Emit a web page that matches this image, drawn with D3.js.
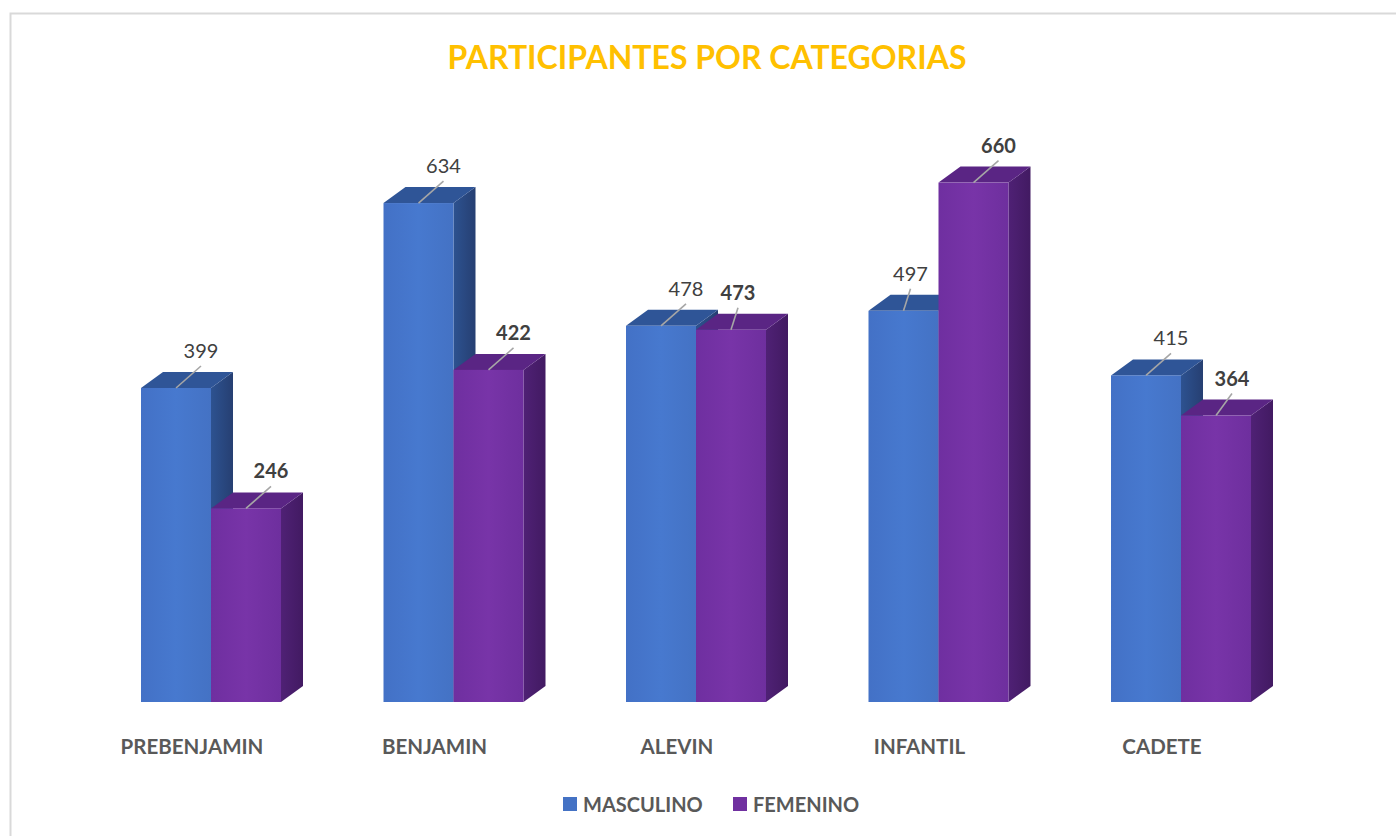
<!DOCTYPE html>
<html>
<head>
<meta charset="utf-8">
<script src="https://cdn.jsdelivr.net/npm/d3@7"></script>
<style>
  body { margin: 0; background: #fff; }
  text { font-family: Lato, "Open Sans", sans-serif; }
</style>
</head>
<body>
<script>
const categories = ["PREBENJAMIN", "BENJAMIN", "ALEVIN", "INFANTIL", "CADETE"];
const masculino = [399, 634, 478, 497, 415];
const femenino = [246, 422, 473, 660, 364];
const seriesNames = ["MASCULINO", "FEMENINO"];

const width = 1396;
const height = 836;

const svg = d3.select("body").append("svg")
  .attr("width", width)
  .attr("height", height)
  .attr("viewBox", [0, 0, width, height]);

// chart frame
svg.append("rect")
  .attr("x", 10.5).attr("y", 13.5)
  .attr("width", width).attr("height", height)
  .attr("fill", "none")
  .attr("stroke", "#d9d9d9")
  .attr("stroke-width", 2);

svg.append("text")
  .attr("x", 707).attr("y", 69)
  .attr("text-anchor", "middle")
  .attr("fill", "#ffc000")
  .attr("font-weight", 700)
  .attr("font-size", 32)
  .text("PARTICIPANTES POR CATEGORIAS");

const x = d3.scaleBand()
  .domain(categories)
  .range([141, 141 + 242.5 * categories.length]);

const y = d3.scaleLinear()
  .domain([0, 700])
  .range([702, 702 - 700 * 0.787]);

const barW = 70;
const depthX = 22, depthY = -16;

const defs = svg.append("defs");
function grad(id, stops) {
  const g = defs.append("linearGradient").attr("id", id)
    .attr("x1", 0).attr("x2", 1).attr("y1", 0).attr("y2", 0);
  stops.forEach(([o, c]) => g.append("stop").attr("offset", o).attr("stop-color", c));
}
grad("blueFront", [[0, "#4371c6"], [0.5, "#4779cf"], [1, "#4472c4"]]);
grad("purpleFront", [[0, "#6f2fa0"], [0.5, "#7834a8"], [1, "#6e2f9e"]]);
grad("blueSide", [[0, "#2d5290"], [1, "#263f72"]]);
grad("purpleSide", [[0, "#4f2175"], [1, "#421a62"]]);

const styles = [
  { front: "url(#blueFront)", side: "url(#blueSide)", top: "#2f5597", legend: "#4472c4", weight: 400 },
  { front: "url(#purpleFront)", side: "url(#purpleSide)", top: "#5a2584", legend: "#7030a0", weight: 700 }
];

// label nudges where neighbouring bars crowd the default spot
const labelShift = { "ALEVIN-1": 7, "INFANTIL-0": 7, "CADETE-1": 16 };

const rows = categories.map((c, i) => ({ cat: c, vals: [masculino[i], femenino[i]] }));

const bars = svg.append("g");
const labels = svg.append("g");

rows.forEach(d => {
  d.vals.forEach((v, s) => {
    const x0 = x(d.cat) + s * barW;
    const x1 = x0 + barW;
    const yt = y(v), yb = y(0);
    const st = styles[s];
    // side face
    bars.append("path")
      .attr("d", `M${x1},${yb}L${x1 + depthX},${yb + depthY}L${x1 + depthX},${yt + depthY}L${x1},${yt}Z`)
      .attr("fill", st.side);
    // top face
    bars.append("path")
      .attr("d", `M${x0},${yt}L${x0 + depthX},${yt + depthY}L${x1 + depthX},${yt + depthY}L${x1},${yt}Z`)
      .attr("fill", st.top);
    // front face
    bars.append("rect")
      .attr("x", x0).attr("y", yt)
      .attr("width", barW).attr("height", yb - yt)
      .attr("fill", st.front);

    const cx = x0 + barW / 2;
    const lx = cx + (labelShift[d.cat + "-" + s] ?? 25);
    labels.append("line")
      .attr("x1", cx).attr("y1", yt)
      .attr("x2", lx).attr("y2", yt - 22)
      .attr("stroke", "#a6a6a6")
      .attr("stroke-width", 1.6);
    labels.append("text")
      .attr("x", lx).attr("y", yt - 30)
      .attr("text-anchor", "middle")
      .attr("fill", "#404040")
      .attr("font-size", 20)
      .attr("font-weight", st.weight)
      .text(v);
  });
  labels.append("text")
    .attr("x", x(d.cat) + barW - 19)
    .attr("y", 754)
    .attr("text-anchor", "middle")
    .attr("fill", "#595959")
    .attr("font-size", 20.5)
    .attr("font-weight", 700)
    .text(d.cat);
});

// legend
const legendX = [563, 733];
const legend = svg.append("g").selectAll("g")
  .data(seriesNames)
  .join("g")
  .attr("transform", (d, i) => `translate(${legendX[i]},797)`);
legend.append("rect")
  .attr("width", 14).attr("height", 14)
  .attr("fill", (d, i) => styles[i].legend);
legend.append("text")
  .attr("x", 20).attr("y", 15)
  .attr("fill", "#595959")
  .attr("font-size", 20)
  .attr("font-weight", 700)
  .text(d => d);
</script>
</body>
</html>
